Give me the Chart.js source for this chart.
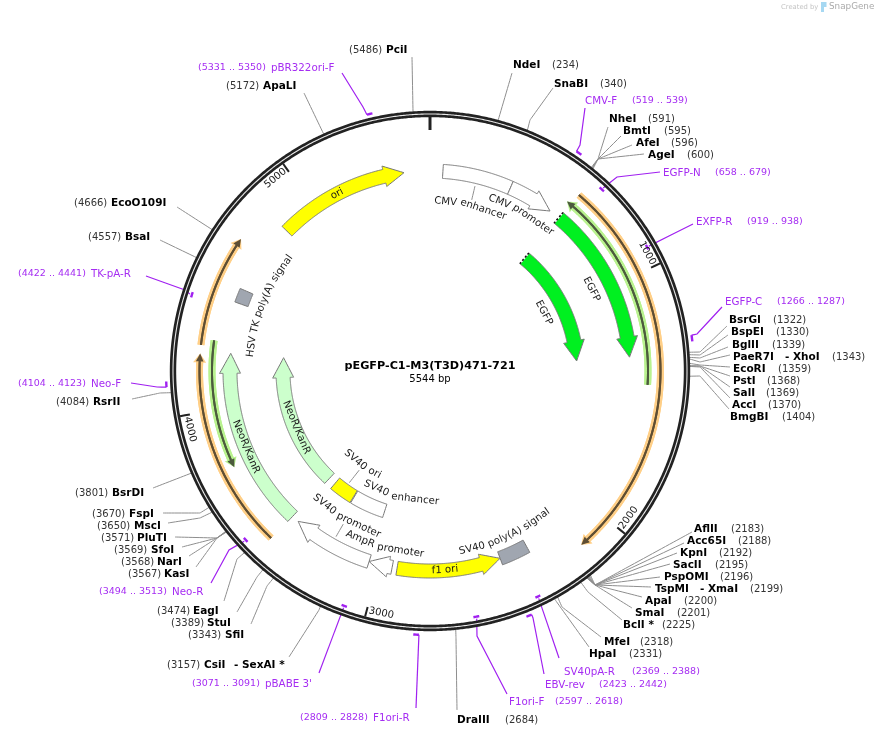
<!DOCTYPE html>
<html>
<head>
<meta charset="utf-8">
<title>pEGFP-C1-M3(T3D)471-721</title>
<script src="https://cdn.jsdelivr.net/npm/chart.js@4/dist/chart.umd.min.js"></script>
<style>
  html, body { margin: 0; padding: 0; background: #fff; }
  canvas { display: block; }
</style>
</head>
<body>
<canvas id="map" width="878" height="737"></canvas>
<script>
/* Plasmid data, all in base pairs */
const plasmidName = 'pEGFP-C1-M3(T3D)471-721';
const plasmidLength = 5544;

const tickSites = [1000, 2000, 3000, 4000, 5000];
const tickLabels = ['1000', '2000', '3000', '4000', '5000'];

const enzymeNames = ['PciI', 'ApaLI', 'EcoO109I', 'BsaI', 'RsrII', 'BsrDI', 'FspI', 'MscI', 'PluTI', 'SfoI', 'NarI', 'KasI',
  'EagI', 'StuI', 'SfiI', 'CsiI  - SexAI *', 'DraIII', 'NdeI', 'SnaBI', 'NheI', 'BmtI', 'AfeI', 'AgeI',
  'BsrGI', 'BspEI', 'BglII', 'PaeR7I  - XhoI', 'EcoRI', 'PstI', 'SalI', 'AccI', 'BmgBI',
  'AflII', 'Acc65I', 'KpnI', 'SacII', 'PspOMI', 'TspMI  - XmaI', 'ApaI', 'SmaI', 'BclI *', 'MfeI', 'HpaI'];
const enzymeSites = [5486, 5172, 4666, 4557, 4084, 3801, 3670, 3650, 3571, 3569, 3568, 3567,
  3474, 3389, 3343, 3157, 2684, 234, 340, 591, 595, 596, 600,
  1322, 1330, 1339, 1343, 1359, 1368, 1369, 1370, 1404,
  2183, 2188, 2192, 2195, 2196, 2199, 2200, 2201, 2225, 2318, 2331];

const primerNames = ['pBR322ori-F', 'CMV-F', 'EGFP-N', 'EXFP-R', 'EGFP-C', 'SV40pA-R', 'EBV-rev', 'F1ori-F', 'F1ori-R', "pBABE 3'", 'Neo-R', 'Neo-F', 'TK-pA-R'];
const primerStarts = [5331, 519, 658, 919, 1266, 2369, 2423, 2597, 2809, 3071, 3494, 4104, 4422];
const primerEnds = [5350, 539, 679, 938, 1287, 2388, 2442, 2618, 2828, 3091, 3513, 4123, 4441];

const featureNames = ['ori', 'CMV enhancer', 'CMV promoter', 'EGFP', 'EGFP', 'NeoR/KanR', 'NeoR/KanR', 'HSV TK poly(A) signal',
  'SV40 ori', 'SV40 enhancer', 'SV40 promoter', 'AmpR promoter', 'f1 ori', 'SV40 poly(A) signal'];
const featureStarts = [4841, 57, 365, 616, 615, 3440, 3436, 4458, 3254, 3048, 3045, 2940, 2456, 2328];
const featureEnds = [5429, 365, 568, 1325, 1326, 4236, 4238, 4520, 3391, 3250, 3407, 3045, 2918, 2456];
const featureStrands = [1, 0, 1, 1, 1, 1, 1, 0, 0, 0, 1, 1, -1, 0];

const traceStarts = [620, 3443, 4258, 600, 3755];
const traceEnds = [2140, 4225, 4696, 1442, 4282];
const traceStrands = [1, 1, 1, -1, -1];

/* Layout, in page pixels: [numberX, nameX, textY, leaderEndX, leaderEndY, elbowX, elbowY, secondNameX] */
const enzymeLayout = [
  [349, 386, 50, 412, 57], [226, 263, 86, 304, 93], [74, 111, 203, 177, 207], [88, 125, 237, 160, 240],
  [56, 93, 402, 132, 399, 160, 393], [75, 112, 493, 153, 488], [92, 129, 514, 163, 513, 200, 513], [97, 134, 526, 168, 523, 200, 518],
  [101, 137, 538, 175, 537, 217, 538], [114, 151, 550, 182, 547, 217, 538], [121, 157, 562, 189, 556, 217, 538], [128, 164, 574, 196, 567, 217, 538],
  [157, 193, 611, 224, 601, 237, 559], [171, 207, 623, 237, 612, 257, 577], [188, 225, 635, 251, 624, 267, 586],
  [167, 204, 665, 289, 657, 319, 610, 234], [505, 457, 720, 457, 710, 456, 638],
  [552, 513, 65, 512, 73], [600, 554, 84, 553, 88, 530, 120], [648, 609, 119, 608, 127, 598, 159], [664, 623, 131, 621, 136, 598, 159],
  [671, 636, 143, 632, 145, 598, 159], [687, 648, 155, 644, 154, 598, 159],
  [773, 729, 320, 727, 326, 700, 352], [776, 731, 332, 728, 335, 700, 355], [772, 732, 345, 728, 347, 700, 358], [832, 733, 357, 730, 355, 700, 362, 785],
  [778, 733, 369, 730, 367, 700, 365], [767, 733, 381, 730, 376, 700, 366], [766, 733, 393, 730, 387, 700, 366], [768, 732, 405, 730, 398, 700, 367], [782, 730, 417, 729, 409, 700, 376],
  [731, 694, 529, 692, 532, 595, 585], [738, 687, 541, 684, 543, 595, 585], [719, 680, 553, 677, 553, 595, 585], [715, 673, 565, 670, 564, 595, 585],
  [720, 664, 577, 660, 577, 595, 585], [750, 655, 589, 651, 587, 595, 585, 700], [684, 645, 601, 642, 597, 595, 585], [677, 635, 613, 632, 608, 595, 585], [662, 623, 625, 622, 620, 588, 592],
  [640, 604, 642, 601, 637, 562, 607], [629, 589, 654, 589, 647, 556, 601]
];
/* [numberX, nameX, textY, tickRadius, leaderEndX, leaderEndY, elbowX, elbowY] */
const primerLayout = [
  [198, 271, 68, 264, 342, 73, 363, 107], [632, 585, 101, 264, 585, 108, 580, 145], [715, 663, 173, 250, 660, 172, 617, 177], [747, 696, 222, 250, 693, 224],
  [777, 725, 302, 264, 722, 307, 697, 334], [632, 564, 672, 250, 559, 658], [599, 545, 685, 264, 544, 674, 533, 618], [555, 509, 702, 250, 507, 694, 477, 636],
  [300, 373, 718, 264, 416, 708], [192, 265, 684, 250, 319, 673], [99, 172, 592, 250, 211, 583, 229, 550], [18, 91, 384, 264, 131, 383, 157, 387], [18, 91, 274, 250, 146, 276, 185, 290]
];
/* track radius, half width, label radius, label angle (degrees clockwise from the top) */
const featureLayout = [
  [200, 7, 200, 332.3], [200, 7, 170, 13.9], [200, 7, 183, 30.2], [200, 7, 181, 63.2], [147, 7, 128, 62.9], [200, 7, 199, 247.6], [147, 7, 145, 247.1], [200, 7, 180, 292],
  [147, 7, 116, 215.8], [147, 7, 129, 193.2], [200, 7, 170, 209.8], [200, 7, 182, 194.6], [200, 7, 199.6, 175.7], [200, 7, 182.5, 155.2]
];
const traceRadii = [230.5, 230.5, 230.5, 218, 218];
const centerX = 430, centerY = 371;

const featureFills = ['#ffff00', '#ffffff', '#ffffff', '#00f020', '#00f020', '#ccffcc', '#ccffcc', '#a0a6b0', '#ffff00', '#ffffff', '#ffffff', '#ffffff', '#ffff00', '#a0a6b0'];
const traceHalos = ['#ffcf87', '#ffcf87', '#ffcf87', '#b9f28f', '#b9f28f'];
const traceCores = ['#5e4e34', '#5e4e34', '#5e4e34', '#4c5a3e', '#4c5a3e'];
const PURPLE = '#a52cf2';
const INK = '#1a1a1a';

function polar(bp, r) {
  const a = bp / plasmidLength * Math.PI * 2;
  return { x: centerX + r * Math.sin(a), y: centerY - r * Math.cos(a) };
}

function arcPoints(from, to, r) {
  const n = Math.max(2, Math.ceil(Math.abs(to - from) / 10));
  const pts = [];
  for (let i = 0; i <= n; i++) pts.push(polar(from + (to - from) * i / n, r));
  return pts;
}

/* Closed outline of a block; with strand 0 it has no head */
function blockOutline(start, end, strand, r, hw, wing, head) {
  const tail = strand < 0 ? end : start;
  const tip = strand < 0 ? start : end;
  if (!strand) {
    const pts = arcPoints(start, end, r + hw).concat(arcPoints(end, start, r - hw));
    pts.push(pts[0]);
    return pts;
  }
  const sign = tip > tail ? 1 : -1;
  const base = tip - sign * head / r * plasmidLength / (Math.PI * 2);
  const pts = arcPoints(tail, base, r + hw)
    .concat([polar(base, r + wing), polar(tip, r), polar(base, r - wing)])
    .concat(arcPoints(base, tail, r - hw));
  pts.push(pts[0]);
  return pts;
}

const datasets = [];
function addLine(points, color, width, extra) {
  // a tiny tension keeps Chart.js off its fast path, which flattens near-vertical arcs
  datasets.push(Object.assign({
    data: points, showLine: true, pointRadius: 0, borderColor: color, borderWidth: width,
    tension: 0.0001, fill: false, order: -datasets.length, borderCapStyle: 'butt', borderJoinStyle: 'miter'
  }, extra || {}));
}

// leaders go first so the ring covers their ends
enzymeSites.forEach((site, i) => {
  const l = enzymeLayout[i];
  const pts = [polar(site, 258)];
  if (l[5] !== undefined) pts.push({ x: l[5], y: l[6] });
  pts.push({ x: l[3], y: l[4] });
  addLine(pts, '#8e8e8e', 1);
});
primerStarts.forEach((start, i) => {
  const l = primerLayout[i];
  const site = l[3] === 250 ? (start + primerEnds[i]) / 2 : start;
  const pts = [polar(site, l[3] === 250 ? 252 : l[3])];
  if (l[6] !== undefined) pts.push({ x: l[6], y: l[7] });
  pts.push({ x: l[4], y: l[5] });
  addLine(pts, '#a020f0', 1.2);
});

// backbone ring
addLine(arcPoints(0, plasmidLength, 257), '#222222', 6.4);
addLine(arcPoints(0, plasmidLength, 257), '#e8e8e8', 1.1);

// ruler
addLine([polar(0, 254), polar(0, 241)], '#222222', 3);
tickSites.forEach(site => addLine([polar(site, 254), polar(site, 244)], '#222222', 2));

// primer bars
primerStarts.forEach((start, i) => addLine(arcPoints(start, primerEnds[i], primerLayout[i][3]), '#a020f0', 2.4));

// thin orange and green tracks
traceStarts.forEach((start, i) => {
  const end = traceEnds[i], strand = traceStrands[i], r = traceRadii[i];
  const tip = strand < 0 ? start : end, tail = strand < 0 ? end : start;
  const base = tip - strand * 8 / r * plasmidLength / (Math.PI * 2);
  addLine(arcPoints(tail, base, r), traceHalos[i], 7);
  addLine(blockOutline(start, end, strand, r, 3.5, 6.5, 9), traceHalos[i], 0, { fill: 'shape', backgroundColor: traceHalos[i] });
  addLine(arcPoints(tail, base, r), traceCores[i], 2);
  addLine(blockOutline(start, end, strand, r, 1, 3.8, 8), traceCores[i], 0, { fill: 'shape', backgroundColor: traceCores[i] });
});

// feature blocks
featureStarts.forEach((start, i) => {
  const l = featureLayout[i];
  addLine(blockOutline(start, featureEnds[i], featureStrands[i], l[0], l[1], 10.5, 20), '#777777', 1,
    { fill: 'shape', backgroundColor: featureFills[i] });
});
// dotted cut ends of the two EGFP blocks
[3, 4].forEach(i => {
  const l = featureLayout[i];
  addLine([polar(featureStarts[i], l[0] + l[1]), polar(featureStarts[i], l[0] - l[1])], '#ffffff', 1.6);
  addLine([polar(featureStarts[i], l[0] + l[1]), polar(featureStarts[i], l[0] - l[1])], '#111111', 1.6, { borderDash: [2, 2] });
});
// short leaders of the inner labels
[[475, 186, 471.7, 200], [359.3, 470, 349.3, 482.7], [343.3, 524, 336, 536.7]].forEach(s =>
  addLine([{ x: s[0], y: s[1] }, { x: s[2], y: s[3] }], '#8e8e8e', 1));

const textPlugin = {
  id: 'mapText',
  afterDatasetsDraw(chart) {
    const ctx = chart.ctx, sx = chart.scales.x, sy = chart.scales.y;
    const REG = '10px "DejaVu Sans"', LABEL = '10.2px "DejaVu Sans"', BOLD = 'bold 10.5px "DejaVu Sans"';
    const PRIMER = '10.3px "DejaVu Sans"', PRIMERNUM = '9.5px "DejaVu Sans"';

    function put(text, x, y, font, color, align) {
      ctx.font = font;
      ctx.fillStyle = color;
      ctx.textAlign = align || 'left';
      ctx.textBaseline = 'middle';
      ctx.fillText(text, sx.getPixelForValue(x), sy.getPixelForValue(y));
    }

    // text along the circle, one rotated piece per word
    function curved(text, r, deg, font, color) {
      ctx.font = font;
      ctx.fillStyle = color;
      ctx.textAlign = 'center';
      ctx.textBaseline = 'middle';
      const flip = Math.cos(deg * Math.PI / 180) < 0;
      const total = ctx.measureText(text).width;
      text.split(' ').forEach((word, i, words) => {
        const before = ctx.measureText(words.slice(0, i).join(' ') + (i ? ' ' : '')).width;
        const w = ctx.measureText(word).width;
        const off = (before + w / 2 - total / 2) / r * 180 / Math.PI;
        const a = deg + (flip ? -off : off);
        const rad = a * Math.PI / 180;
        ctx.save();
        ctx.translate(sx.getPixelForValue(centerX + r * Math.sin(rad)), sy.getPixelForValue(centerY - r * Math.cos(rad)));
        ctx.rotate(flip ? rad - Math.PI : rad);
        ctx.fillText(word, 0, 0);
        ctx.restore();
      });
    }

    enzymeNames.forEach((name, i) => {
      const l = enzymeLayout[i];
      put('(' + enzymeSites[i] + ')', l[0], l[2], REG, '#333333');
      const parts = name.split('  ');
      put(parts[0], l[1], l[2], BOLD, '#000000');
      if (parts[1]) put(parts[1], l[7], l[2], BOLD, '#000000');
    });
    primerNames.forEach((name, i) => {
      const l = primerLayout[i];
      put('(' + primerStarts[i] + ' .. ' + primerEnds[i] + ')', l[0], l[2], PRIMERNUM, PURPLE);
      put(name, l[1], l[2], PRIMER, PURPLE);
    });
    featureNames.forEach((name, i) => {
      curved(name, featureLayout[i][2], featureLayout[i][3], LABEL, INK);
    });
    tickLabels.forEach((label, i) => {
      curved(label, 247, tickSites[i] / plasmidLength * 360 - 3.4, REG, INK);
    });

    put(plasmidName, 430, 366, 'bold 11.2px "DejaVu Sans"', '#000000', 'center');
    put(plasmidLength + ' bp', 430, 379, REG, '#000000', 'center');

    // SnapGene credit
    put('Created by', 781, 7, '6.8px "DejaVu Sans"', '#c4c4c4');
    ctx.fillStyle = '#a6d8f2';
    ctx.fillRect(sx.getPixelForValue(821), sy.getPixelForValue(2), 3, 10);
    ctx.fillRect(sx.getPixelForValue(824), sy.getPixelForValue(2), 2.5, 5);
    put('SnapGene', 829, 7, '8.8px "DejaVu Sans"', '#aaaaaa');
  }
};

new Chart(document.getElementById('map'), {
  type: 'scatter',
  data: { datasets },
  plugins: [textPlugin],
  options: {
    responsive: false,
    animation: false,
    layout: { padding: 0 },
    plugins: { legend: { display: false }, tooltip: { enabled: false } },
    scales: {
      x: { type: 'linear', min: 0, max: 878, display: false },
      y: { type: 'linear', min: 0, max: 737, reverse: true, display: false }
    }
  }
});
</script>
</body>
</html>
